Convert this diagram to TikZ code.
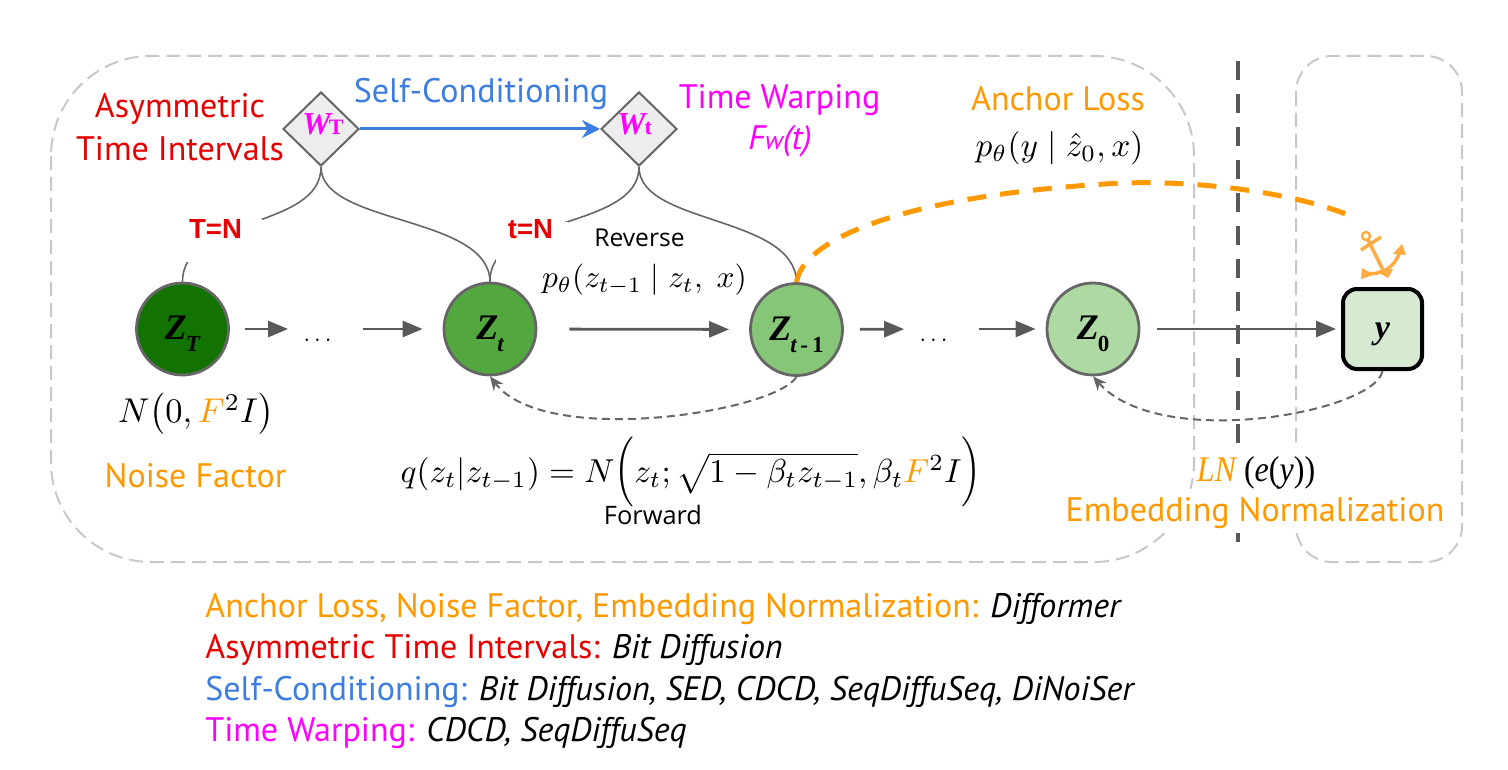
\documentclass[tikz,border=0pt]{standalone}
\usepackage{amsmath,bm}
\usepackage[no-math]{fontspec}
\setmainfont{PT Sans}
\newfontfamily\revfont{Open Sans}
\newfontfamily\armfont{Liberation Sans}
\newfontfamily\timesfont{Liberation Serif}
\usetikzlibrary{shapes.geometric,arrows.meta}
\definecolor{cOrange}{HTML}{FF9900}
\definecolor{cRed}{HTML}{E60000}
\definecolor{cBlue}{HTML}{3D7DE0}
\definecolor{cMag}{HTML}{FF00FF}
\definecolor{cGrey}{HTML}{595959}
\definecolor{cStroke}{HTML}{666666}
\definecolor{cBox}{HTML}{C8C8C8}
\definecolor{cAnchor}{HTML}{FFAB40}
\definecolor{gA}{HTML}{137300}
\definecolor{gB}{HTML}{52A83F}
\definecolor{gC}{HTML}{85C777}
\definecolor{gD}{HTML}{AED9A3}
\definecolor{gE}{HTML}{D5EAD0}
\tikzset{
  groupbox/.style={draw=cBox,line width=1pt,dash pattern=on 7pt off 3.5pt},
  state/.style={circle,draw=cStroke,line width=1.4pt,minimum size=46pt,inner sep=0pt,text height=0pt,text depth=0pt},
  warp/.style={diamond,draw=cStroke,fill=black!7,line width=1pt,minimum width=38pt,minimum height=37pt,inner sep=0pt,text=cMag},
  flow/.style={draw=cGrey,line width=1.4pt,-{Triangle[length=10pt,width=8pt]}},
  back/.style={draw=cStroke,line width=1pt,dash pattern=on 4pt off 2.5pt,-{Stealth[length=7pt,width=6pt]}},
  warpline/.style={draw=cStroke,line width=.8pt},
  lab/.style={inner sep=0pt,font=\fontsize{17}{20}\selectfont},
  eq/.style={inner sep=0pt},
  dotn/.style={inner sep=0pt,minimum width=13.5pt,text height=4pt,text depth=4pt},
  listline/.style={inner sep=0pt,anchor=base west,font=\fontsize{17}{20}\selectfont},
  covering/.style={fill=white,inner sep=0pt,text height=0pt,text depth=0pt},
  tnlab/.style={covering,font=\armfont\bfseries\fontsize{13.8}{16}\selectfont,text=cRed},
}
\newcommand{\Zlab}[1]{\raisebox{-5.25pt}{\timesfont\bfseries\itshape\fontsize{18}{20}\selectfont Z\hspace{-.5pt}\raisebox{-6pt}{\fontsize{11.5}{13}\selectfont #1}}}
\newcommand{\tallopen}{\mathopen{\smash{\raisebox{.4pt}{\scalebox{1}[1.17]{$\Bigl($}}}}}
\newcommand{\tallclose}{\mathclose{\smash{\raisebox{.4pt}{\scalebox{1}[1.17]{$\Bigr)$}}}}}
\begin{document}
\begin{tikzpicture}[x=0.5pt,y=-0.5pt]
\useasboundingbox (0,0) rectangle (1508,770);
% group boxes
\draw[groupbox,rounded corners=50pt] (51,56) rectangle (1194,562);
\draw[groupbox,rounded corners=18pt] (1296,56) rectangle (1462,562);
% vertical separator
\coordinate (sepTop) at (1238,61);
\coordinate (sepBot) at (1238,551);
\draw[cGrey,line width=2.35pt,dash pattern=on 9.5pt off 7pt] (sepTop) -- (sepBot);
% state nodes
\node[state,fill=gA] (zT) at (182.5,329) {\Zlab{T}};
\node[state,fill=gB] (zt) at (490,329) {\Zlab{t}};
\node[state,fill=gC] (ztm) at (796.5,329.5) {\Zlab{t\,-\,\upshape 1}};
\node[state,fill=gD] (zz) at (1093,329) {\Zlab{\upshape 0}};
\node[draw=black,line width=2pt,fill=gE,rounded corners=7pt,minimum width=39.5pt,minimum height=40pt,inner sep=0pt,text height=0pt,text depth=0pt] (y) at (1382.5,329) {\raisebox{-4.5pt}{\timesfont\bfseries\itshape\fontsize{17}{20}\selectfont y}};
\node[dotn] (d1) at (319.5,329) {\raisebox{-6pt}{\scalebox{1.2}{$\dots$}}};
\node[dotn] (d2) at (935.5,329) {\raisebox{-6pt}{\scalebox{1.2}{$\dots$}}};
% diamonds
\node[warp] (wT) at (321,129) {\smash{\makebox[0pt]{\hspace{2pt}\raisebox{-3pt}{\timesfont\bfseries\itshape\fontsize{16}{18}\selectfont W\hspace{-1pt}{\upshape\fontsize{11}{12}\selectfont T}}}}};
\node[warp] (wt) at (639,129) {\smash{\makebox[0pt]{\hspace{-4.5pt}\raisebox{-3pt}{\timesfont\bfseries\itshape\fontsize{16}{18}\selectfont W\hspace{-.5pt}{\upshape\fontsize{11}{12}\selectfont t}}}}};
% warp curves
\draw[warpline] (wT.south) .. controls (321,230) and (183,215) .. (zT.north);
\draw[warpline] (wT.south) .. controls (321,225) and (489,215) .. (zt.north);
\draw[warpline] (wt.south) .. controls (639,230) and (489,215) .. (zt.north);
\draw[warpline] (wt.south) .. controls (639,225) and (795,215) .. (ztm.north);
% labels masking the curves
\node[tnlab,minimum width=38pt,minimum height=21.5pt] (TN) at (224,240.5) {\hspace{-8.5pt}\raisebox{1.25pt}{\makebox[0pt]{T=N}}};
\node[tnlab,minimum width=36pt,minimum height=20.5pt] (tN) at (532,242.5) {\hspace{-1.5pt}\raisebox{2.25pt}{\makebox[0pt]{t=N}}};
% flow arrows
\draw[flow,shorten <=7.5pt,shorten >=7.5pt] (zT) -- (d1);
\draw[flow,shorten <=13.5pt,shorten >=10pt] (d1) -- (zt);
\draw[flow,shorten <=16pt,shorten >=10pt] (zt) -- (ztm);
\draw[flow,shorten <=8pt,shorten >=7.5pt] (ztm) -- (d2);
\draw[flow,shorten <=13.5pt,shorten >=5pt] (d2) -- (zz);
\draw[flow,shorten <=8.5pt,shorten >=2.5pt] (zz) -- (y);
\draw[back] (ztm.south) .. controls (775,412) and (545,448) .. (zt.south);
\draw[back] (y.south) .. controls (1375,412) and (1160,452) .. (zz.south);
% self conditioning
\draw[cBlue,line width=1.5pt,-{Stealth[length=9pt,width=9pt]}] (wT) -- (wt);
% anchor loss
\coordinate (anchorEnd) at (1353,217);
\draw[cOrange,line width=2.5pt,dash pattern=on 9.5pt off 7pt] (ztm.north) .. controls (803,240) and (900,196) .. (1113,183.5) .. controls (1200,179) and (1300,194) .. (anchorEnd);
% anchor icon
\begin{scope}[cAnchor,line width=1.7pt]
\draw[line width=1.2pt] (1366,236) circle (4);
\draw (1368,240) -- (1385,274);
\draw (1361,250) -- (1381,237);
\draw (1367,273) .. controls (1378,276) and (1395,269) .. (1400,251);
\fill (1361,279) -- (1362,268) -- (1373,275) -- cycle;
\fill (1402,244) -- (1393,254) -- (1406,255) -- cycle;
\fill (1376,271) -- (1393,269) -- (1388,278) -- cycle;
\end{scope}
% top labels
\node[lab,text=cRed] (l1) at (180,109) {Asymmetric};
\node[lab,text=cRed] (l2) at (180,148.5) {Time Intervals};
\node[lab,text=cBlue] (l3) at (481,94) {Self-Conditioning};
\node[lab,text=cMag] (l4) at (779.5,100) {Time Warping};
\node[lab,text=cMag] (l5) at (780,141) {\itshape F{\fontsize{13}{15}\selectfont w}(t)};
\node[lab,text=cOrange] (l6) at (1058,99) {Anchor Loss};
\node[eq] (m1) at (1059.5,148) {\scalebox{1.67}{$p_\theta(y\mid\hat z_0,x)$}};
\node[inner sep=0pt,font=\revfont\fontsize{12.3}{14}\selectfont] (rev) at (639.5,238) {Reverse};
\node[eq] (m2) at (644.5,280) {\scalebox{1.57}{$p_\theta(z_{t-1}\mid z_t,\;x)$}};
% lower labels
\node[eq] (m3) at (196,414) {\scalebox{1.72}{$N\bigl(0,{\color{cOrange}F}^2I\bigr)$}};
\node[lab,text=cOrange] (l7) at (195.5,475.5) {Noise Factor};
\node[eq] (m4) at (691,473) {\scalebox{1.66}{$q(z_t|z_{t-1})=N\tallopen z_t;\sqrt{1-\beta_t z_{t-1}},\beta_t{\color{cOrange}F}^2I\tallclose$}};
\node[inner sep=0pt,font=\revfont\fontsize{12.7}{14}\selectfont] (fw) at (653,515) {Forward};
\node[covering,font=\timesfont\fontsize{18}{20}\selectfont,minimum width=60pt,minimum height=20pt] (ln) at (1256,469) {\raisebox{-6pt}{\scalebox{0.89}[1]{{\color{cOrange}\itshape LN} (\textit{e}(\textit{y}))}}};
\node[covering,font=\fontsize{17}{20}\selectfont,text=cOrange,minimum height=22pt,minimum width=193pt] (en) at (1255,511) {\raisebox{-5.2pt}{Embedding Normalization}};
% bottom list
\node[listline] (b1) at (205,617) {\textcolor{cOrange}{Anchor Loss, Noise Factor, Embedding Normalization:} \textit{Difformer}};
\node[listline] (b2) at (205,658) {\textcolor{cRed}{Asymmetric Time Intervals:} \textit{Bit Diffusion}};
\node[listline] (b3) at (205,700) {\textcolor{cBlue}{Self-Conditioning:} \textit{Bit Diffusion, SED, CDCD, SeqDiffuSeq, DiNoiSer}};
\node[listline] (b4) at (205,741) {\textcolor{cMag}{Time Warping:} \textit{CDCD, SeqDiffuSeq}};
\end{tikzpicture}
\end{document}
